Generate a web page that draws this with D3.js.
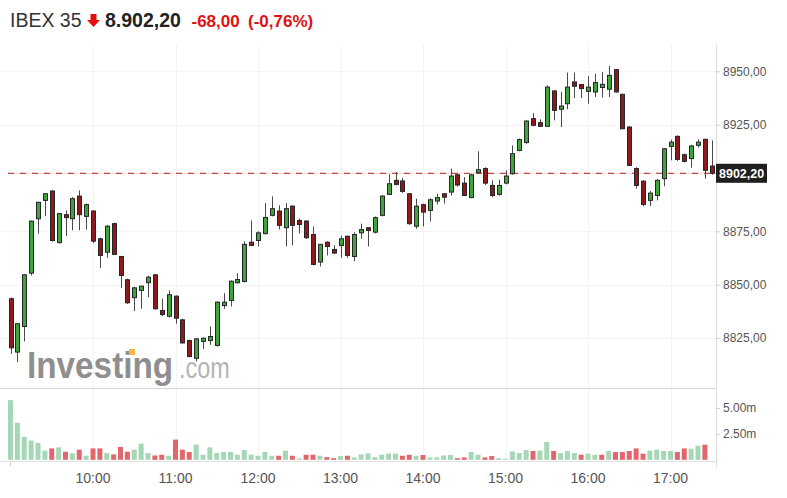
<!DOCTYPE html>
<html><head><meta charset="utf-8">
<script src="https://cdn.jsdelivr.net/npm/d3@7"></script>
<style>
html,body{margin:0;padding:0;background:#fff;}
svg{display:block;font-family:"Liberation Sans",Arial,sans-serif;}
</style></head>
<body><svg id="c" width="787" height="498"></svg>
<script>
// ---------------- DATA ----------------
const symbol = "IBEX 35";
const lastPrice = 8902.20;
const change = -68.00;
const changePct = -0.76;
const startTime = "09:00";
const intervalMinutes = 5;

const open = [8843.4,8818.4,8830.4,8855.4,8880.9,8889.5,8893.9,8869.7,8882.8,8880.9,
8891.5,8882.0,8884.5,8871.5,8865.2,8878.6,8863.2,8852.3,8843.9,8847.3,
8850.9,8854.6,8837.9,8835.2,8844.6,8833.5,8823.8,8815.5,8823.4,8823.8,
8821.5,8840.2,8842.6,8850.9,8851.5,8869.9,8870.7,8873.9,8882.5,8884.5,
8876.7,8886.8,8880.1,8879.8,8873.5,8860.6,8869.9,8866.5,8868.4,8872.7,
8863.2,8874.3,8876.7,8874.6,8882.5,8892.3,8898.9,8898.6,8892.6,8877.4,
8887.5,8884.8,8889.2,8892.6,8893.4,8901.5,8897.6,8890.8,8902.5,8904.4,
8896.5,8892.3,8897.6,8902.0,8912.9,8916.6,8927.8,8925.9,8924.2,8940.8,
8932.2,8934.8,8945.0,8943.8,8940.6,8940.3,8942.4,8941.6,8950.8,8939.2,
8923.9,8904.4,8898.5,8889.5,8891.8,8899.7,8914.8,8919.5,8910.9,8909.1,
8915.3,8918.1,8905.6];
const high = [8844.0,8832.0,8855.0,8880.0,8888.8,8893.0,8894.3,8883.6,8884.8,8891.0,
8894.2,8888.0,8885.0,8872.0,8878.0,8879.0,8863.5,8852.8,8849.0,8849.5,
8854.2,8855.0,8843.4,8847.3,8845.0,8834.0,8824.2,8825.0,8825.2,8830.4,
8842.2,8846.0,8852.0,8855.4,8870.3,8880.1,8875.0,8888.2,8891.4,8887.2,
8888.2,8887.2,8881.0,8880.2,8877.3,8869.0,8870.3,8868.4,8873.0,8873.0,
8874.6,8878.6,8877.0,8882.0,8892.0,8901.7,8902.8,8900.0,8893.0,8890.3,
8888.0,8890.5,8892.6,8893.0,8904.4,8902.0,8900.4,8902.0,8912.5,8905.0,
8898.9,8899.2,8903.6,8915.3,8918.5,8927.0,8930.4,8927.5,8943.4,8941.0,
8940.4,8949.4,8949.4,8944.0,8947.7,8948.9,8949.7,8952.5,8951.0,8939.5,
8924.2,8905.0,8899.0,8893.9,8899.5,8914.0,8918.0,8920.0,8911.5,8915.5,
8918.1,8918.5,8917.6];
const low = [8817.6,8813.7,8823.4,8854.3,8873.9,8882.1,8870.2,8869.3,8872.8,8875.5,
8875.5,8875.8,8869.5,8857.9,8862.6,8864.0,8848.5,8841.0,8837.6,8838.7,
8844.1,8838.3,8835.3,8834.6,8831.7,8822.3,8816.0,8814.0,8819.9,8821.8,
8821.0,8838.7,8839.8,8850.5,8851.0,8868.0,8867.9,8873.5,8882.0,8875.8,
8867.9,8868.4,8874.0,8871.5,8859.0,8858.5,8863.7,8864.5,8862.6,8862.6,
8861.0,8871.5,8867.9,8874.0,8882.0,8892.0,8896.5,8893.0,8878.0,8876.2,
8877.3,8879.6,8887.6,8888.0,8891.8,8896.0,8891.5,8890.5,8902.0,8896.7,
8891.0,8891.7,8897.0,8901.5,8912.5,8916.0,8924.2,8924.0,8924.0,8927.0,
8923.9,8932.2,8937.5,8937.5,8934.8,8938.0,8937.7,8938.0,8940.0,8922.8,
8905.6,8895.0,8886.7,8886.8,8889.5,8896.1,8908.3,8908.0,8907.3,8904.8,
8914.2,8899.7,8901.5];
const close = [8820.4,8831.7,8854.6,8879.8,8888.6,8892.6,8870.7,8883.3,8881.4,8890.3,
8882.8,8887.5,8870.4,8863.7,8877.4,8864.2,8854.3,8841.5,8848.5,8849.3,
8853.5,8838.7,8836.0,8845.3,8834.3,8822.7,8816.3,8824.6,8824.9,8825.7,
8841.8,8841.8,8851.6,8852.4,8868.9,8868.4,8874.3,8881.5,8885.6,8877.8,
8885.6,8877.8,8878.2,8872.0,8859.5,8868.9,8867.9,8864.8,8871.5,8863.7,
8873.5,8875.8,8875.4,8881.4,8891.5,8897.3,8897.0,8893.7,8878.6,8886.8,
8884.0,8889.8,8890.8,8891.0,8900.9,8896.7,8891.8,8901.5,8903.9,8897.6,
8891.8,8896.5,8900.9,8911.4,8918.0,8926.7,8924.7,8924.2,8942.6,8931.7,
8933.7,8942.6,8943.0,8941.9,8942.6,8944.7,8943.9,8948.1,8940.3,8923.1,
8905.9,8896.5,8887.6,8892.9,8898.9,8913.7,8916.8,8908.7,8907.8,8915.0,
8916.8,8903.6,8902.2];
// volume in millions
const volume = [5.76,3.58,2.21,1.86,1.63,0.88,1.10,1.20,0.78,0.62,
0.98,0.39,1.10,1.10,0.65,0.52,1.24,0.78,0.98,1.56,
0.65,0.42,0.49,0.39,1.95,0.98,0.75,1.46,0.49,1.20,
0.65,0.75,0.75,0.49,0.94,0.49,0.39,0.75,0.39,0.39,
0.88,0.39,0.13,0.49,0.49,0.39,0.26,0.16,0.36,0.39,
0.23,0.52,0.62,0.26,0.49,0.59,0.59,0.39,0.49,0.39,
0.46,0.23,0.23,0.42,0.46,0.16,0.23,0.75,0.49,0.23,
0.36,0.16,0.10,0.81,0.65,0.94,0.85,0.88,1.73,0.85,
0.65,0.85,0.65,0.49,0.59,0.49,0.49,0.85,0.75,0.75,
0.85,1.10,0.59,0.88,0.98,0.85,0.85,0.75,1.10,1.07,
1.37,1.46,0];
// volume bar colour: U = up (green), D = down (red)
const volumeDir = ["U","U","U","U","U","U","D","U","D","U",
"D","U","D","D","U","D","D","D","U","U",
"U","D","D","U","D","D","D","U","U","U",
"U","U","U","U","U","U","U","U","U","D",
"U","D","U","D","D","U","D","D","U","D",
"U","U","U","U","U","U","U","D","D","U",
"D","U","U","U","U","D","D","U","U","D",
"D","U","U","U","U","U","D","U","U","D",
"U","U","U","D","U","U","D","U","D","D",
"D","D","D","U","U","U","U","D","D","U",
"U","D","D"];
const priceTicks = [8825,8850,8875,8925,8950];
const volumeTicks = [2.5,5];
const hourTicks = ["10:00","11:00","12:00","13:00","14:00","15:00","16:00","17:00"];
const endTime = "17:30";

// ---------------- CHART ----------------
const svg = d3.select("#c");
const W = 787, H = 498;
const plotL = 0, plotR = 716;
const priceTop = 45, priceBot = 388, volBot = 461;

const parseT = d3.timeParse("%H:%M");
const t0 = parseT(startTime);
const times = open.map((d,i)=> d3.timeMinute.offset(t0, i*intervalMinutes));

const x = d3.scaleTime().domain([t0, parseT(endTime)]).range([10.5, 711.75]);
const y = d3.scaleLinear().domain([8825, 8950]).range([338, 71.3]);
const yv = d3.scaleLinear().domain([0, 5]).range([459.8, 408]);

const es = d3.formatLocale({decimal:",", thousands:".", grouping:[3], currency:["","€"], minus:"-"});
const fPrice = es.format(".2f");
const fHead = es.format(",.2f");
const fVol = d3.format(".2f");

svg.append("rect").attr("width",W).attr("height",H).attr("fill","#fff");

// grid
const g = svg.append("g");
g.selectAll(".hg").data(priceTicks).join("line")
  .attr("x1",plotL).attr("x2",plotR).attr("y1",d=>Math.round(y(d))+0.5).attr("y2",d=>Math.round(y(d))+0.5)
  .attr("stroke","#f4f4f4");
g.selectAll(".vg").data(hourTicks).join("line")
  .attr("x1",d=>Math.round(x(parseT(d)))+0.5).attr("x2",d=>Math.round(x(parseT(d)))+0.5)
  .attr("y1",priceTop).attr("y2",volBot)
  .attr("stroke","#f4f4f4");

// watermark
const wm = svg.append("g");
wm.append("text").attr("transform","translate(27,378) scale(0.9,1)")
  .attr("font-size",37).attr("font-weight","bold").attr("fill","#8f8f8f").text("Investing");
wm.append("text").attr("transform","translate(179,378) scale(0.78,1)")
  .attr("font-size",30).attr("fill","#b4b4b4").text(".com");
wm.append("rect").attr("x",129).attr("y",349).attr("width",6).attr("height",6).attr("fill","#f7b84b");

// separators / axes lines
svg.append("line").attr("x1",0).attr("x2",plotR).attr("y1",priceBot+0.5).attr("y2",priceBot+0.5).attr("stroke","#d6d6d6");
svg.append("line").attr("x1",0).attr("x2",plotR).attr("y1",volBot+0.5).attr("y2",volBot+0.5).attr("stroke","#e3e3e3");
svg.append("line").attr("x1",plotR+0.5).attr("x2",plotR+0.5).attr("y1",priceTop).attr("y2",467).attr("stroke","#dcdcdc");
svg.append("line").attr("x1",10.5).attr("x2",10.5).attr("y1",volBot).attr("y2",volBot+5).attr("stroke","#d0d0d0");

// price axis
const ya = d3.axisRight(y).tickValues(priceTicks).tickFormat(fPrice).tickSize(4).tickPadding(3);
const yag = svg.append("g").attr("transform",`translate(${plotR},0)`).call(ya);
yag.select(".domain").remove();
yag.selectAll("line").attr("stroke","#d0d0d0");
yag.selectAll("text").attr("font-size",12).attr("fill","#555").attr("font-family","Liberation Sans, Arial, sans-serif");

// volume axis
const va = d3.axisRight(yv).tickValues(volumeTicks).tickFormat(d=>fVol(d)+"m").tickSize(4).tickPadding(3);
const vag = svg.append("g").attr("transform",`translate(${plotR},0)`).call(va);
vag.select(".domain").remove();
vag.selectAll("line").attr("stroke","#d0d0d0");
vag.selectAll("text").attr("font-size",12).attr("fill","#555").attr("font-family","Liberation Sans, Arial, sans-serif");

// time axis labels
svg.append("g").selectAll("text").data(hourTicks).join("text")
  .attr("x",d=>x(parseT(d))).attr("y",483).attr("text-anchor","middle")
  .attr("font-size",14).attr("fill","#555").text(d=>d);

// volume bars
svg.append("g").selectAll("rect").data(volume).join("rect")
  .attr("x",(d,i)=>x(times[i])-2.5).attr("width",5)
  .attr("y",d=>yv(d)).attr("height",d=>Math.max(0,yv(0)-yv(d)))
  .attr("fill",(d,i)=>volumeDir[i]==="U"?"#a5d6b6":"#e2666c");

// last price dashed line
const yl = y(lastPrice);
svg.append("line").attr("x1",8).attr("x2",plotR).attr("y1",yl).attr("y2",yl).attr("stroke","#f6d0d0").attr("stroke-width",1);
svg.append("line").attr("x1",8).attr("x2",plotR).attr("y1",yl).attr("y2",yl).attr("stroke","#c0504d").attr("stroke-width",1.2).attr("stroke-dasharray","6,6");

// candles
const cg = svg.append("g");
const idx = d3.range(open.length);
cg.selectAll(".wick").data(idx).join("line")
  .attr("x1",i=>Math.round(x(times[i]))+0.5).attr("x2",i=>Math.round(x(times[i]))+0.5)
  .attr("y1",i=>y(high[i])).attr("y2",i=>y(low[i]))
  .attr("stroke","#4a4a4a").attr("stroke-width",1);
cg.selectAll(".body").data(idx).join("rect")
  .attr("x",i=>Math.round(x(times[i]))-1.5).attr("width",4)
  .attr("y",i=>y(Math.max(open[i],close[i])))
  .attr("height",i=>Math.max(1.5, Math.abs(y(open[i])-y(close[i]))))
  .attr("fill",i=>close[i]>=open[i]?"#3fa53a":"#8e1a1a")
  .attr("stroke","#262626").attr("stroke-width",1);

// last price label
svg.append("rect").attr("x",plotR).attr("y",yl-9.5).attr("width",51).attr("height",19).attr("fill","#1f1f1f");
svg.append("text").attr("x",plotR+3).attr("y",yl+4.5).attr("font-size",12.5).attr("font-weight","bold")
  .attr("fill","#fff").text(fPrice(lastPrice));

// header
const hd = svg.append("g");
hd.append("text").attr("x",10).attr("y",27).attr("font-size",19.5).attr("fill","#333").text(symbol);
hd.append("path").attr("d","M90.5,14 H96.5 V20 H100 L93.5,27 L87,20 H90.5 Z").attr("fill","#e3100f");
hd.append("text").attr("x",105).attr("y",27).attr("font-size",19.5).attr("font-weight","bold").attr("fill","#222").text(fHead(lastPrice));
hd.append("text").attr("x",191.5).attr("y",27).attr("font-size",17).attr("font-weight","bold").attr("fill","#e3100f").text(fPrice(change));
hd.append("text").attr("x",248).attr("y",27).attr("font-size",17).attr("font-weight","bold").attr("fill","#e3100f").text("(" + fPrice(changePct) + "%)");
</script></body></html>
